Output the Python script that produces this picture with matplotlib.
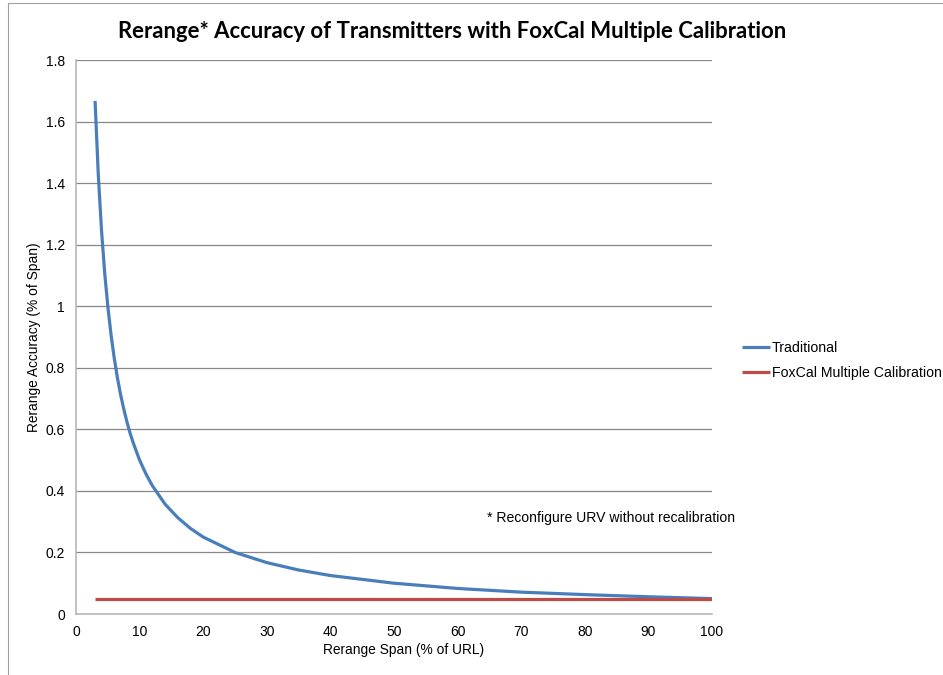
import numpy as np
import matplotlib
matplotlib.use("Agg")
import matplotlib.pyplot as plt
from matplotlib.patches import Rectangle

span = [3, 3.5, 4, 4.5, 5, 5.5, 6, 6.5, 7, 7.5, 8, 8.5, 9, 10, 11, 12, 14,
        16, 18, 20, 25, 30, 35, 40, 50, 60, 70, 80, 90, 100]
traditional = [1.667, 1.429, 1.25, 1.111, 1.0, 0.909, 0.833, 0.769, 0.714,
               0.667, 0.625, 0.588, 0.556, 0.5, 0.455, 0.417, 0.357, 0.313,
               0.278, 0.25, 0.2, 0.167, 0.143, 0.125, 0.1, 0.083, 0.071,
               0.063, 0.056, 0.05]
foxcal_x = [3, 100]
foxcal = [0.05, 0.05]

yticks = [0, 0.2, 0.4, 0.6, 0.8, 1, 1.2, 1.4, 1.6, 1.8]
ytick_labels = ["0", "0.2", "0.4", "0.6", "0.8", "1", "1.2", "1.4", "1.6", "1.8"]
xticks = list(range(0, 101, 10))

plt.rcParams['font.family'] = ['Liberation Sans', 'DejaVu Sans']

fig = plt.figure(figsize=(9.43, 6.75), dpi=100)
ax = fig.add_axes([76 / 943, 61 / 675, 636 / 943, 554 / 675])

# outer chart border (left and top edges visible)
fig.patches.append(Rectangle((8 / 943, -0.1), 1.2, 1.1 - 3 / 675,
                             transform=fig.transFigure, fill=False,
                             edgecolor='#a0a0a0', linewidth=0.8))

ax.plot(span, traditional, color='#4a7ebb', lw=2.3, label='Traditional',
        solid_capstyle='butt', solid_joinstyle='round')
ax.plot(foxcal_x, foxcal, color='#be4b48', lw=2.3, label='FoxCal Multiple Calibration',
        solid_capstyle='butt')

ax.set_xlim(0, 100)
ax.set_ylim(0, 1.8)
ax.set_yticks(yticks)
ax.set_yticklabels(ytick_labels)
ax.set_xticks(xticks)
ax.tick_params(length=0, labelsize=10, pad=8)
ax.grid(axis='y', color='#878787', lw=0.9)
ax.set_axisbelow(True)
for s in ['top', 'right']:
    ax.spines[s].set_visible(False)
for s in ['left', 'bottom']:
    ax.spines[s].set_color('#b8b8b8')
    ax.spines[s].set_linewidth(1.2)

ax.set_xlabel('Rerange Span (% of URL)', fontsize=9.9, labelpad=6)
ax.xaxis.set_label_coords(0.5 + 10 / 636, -0.052)
ax.set_ylabel('Rerange Accuracy (% of Span)', fontsize=9.9, labelpad=3)

fig.text(452 / 943, 1 - 32 / 675, 'Rerange* Accuracy of Transmitters with FoxCal Multiple Calibration',
         ha='center', va='center', fontsize=15.9, fontweight='bold', family=['Lato', 'DejaVu Sans'])

ax.text(487 / 943, 1 - 518 / 675, '* Reconfigure URV without recalibration',
        transform=fig.transFigure, fontsize=10.1, va='center', ha='left')

fig.legend(loc='upper left', bbox_to_anchor=(742 / 943, 1 - 341 / 675),
           frameon=False, fontsize=10.2, handlelength=2.0, handletextpad=0.1,
           labelspacing=0.75, borderaxespad=0, borderpad=0)

fig.savefig('out.png', dpi=100)
